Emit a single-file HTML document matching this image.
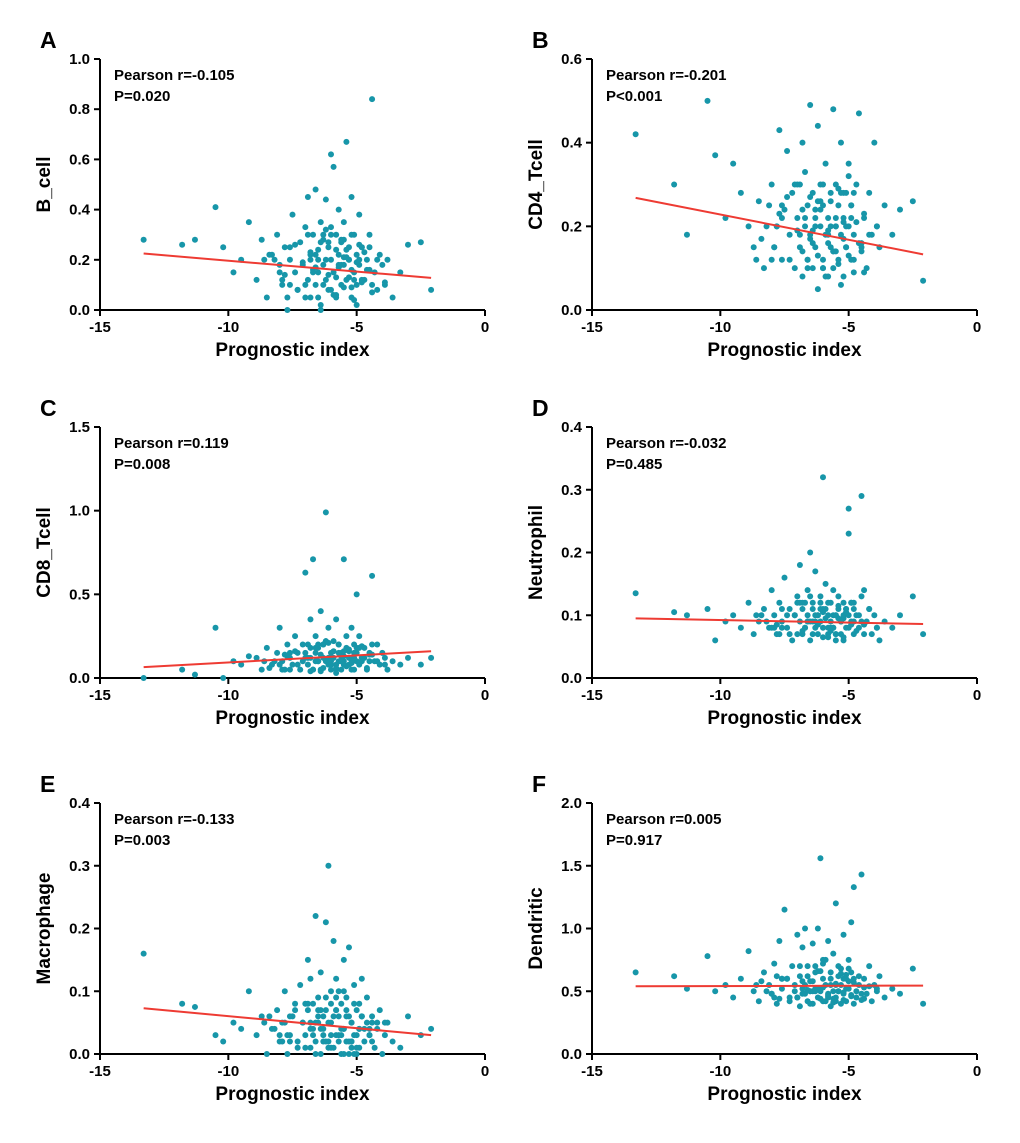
<!DOCTYPE html>
<html><head><meta charset="utf-8">
<style>
html,body{margin:0;padding:0;background:#fff;}
svg{display:block;font-family:"Liberation Sans",Arial,sans-serif;font-weight:bold;}
</style></head>
<body>
<svg id="fig" width="1020" height="1143" viewBox="0 0 1020 1143"></svg>
<script>
const xTicks=[-15,-10,-5,0];
const prognosticIndex=[-13.3,-11.8,-11.3,-10.5,-10.2,-9.8,-9.5,-9.2,-8.9,-8.7,
-8.5,-8.3,-8.1,-8.0,-7.9,-7.8,-7.7,-7.6,-7.5,-7.4,
-7.3,-7.2,-7.1,-7.0,-6.9,-6.9,-6.8,-6.8,-6.7,-6.7,
-6.6,-6.6,-6.5,-6.5,-6.4,-6.4,-6.3,-6.3,-6.2,-6.2,
-6.1,-6.1,-6.0,-6.0,-5.9,-5.9,-5.8,-5.8,-5.7,-5.7,
-5.6,-5.6,-5.5,-5.5,-5.4,-5.4,-5.3,-5.3,-5.2,-5.2,
-5.1,-5.1,-5.0,-5.0,-4.9,-4.9,-4.8,-4.7,-4.6,-4.5,
-4.4,-4.3,-4.2,-4.1,-4.0,-3.9,-3.8,-3.6,-3.3,-3.0,
-2.5,-2.1,-8.6,-7.6,-7.0,-6.5,-6.0,-5.5,-5.0,-4.5,
-7.8,-6.2,-5.8,-5.3,-4.8,-6.8,-6.4,-5.6,-5.2,-4.4,
-8.2,-7.9,-7.6,-7.3,-7.1,-6.9,-6.7,-6.6,-6.5,-6.4,-6.3,-6.2,-6.1,-6.0,-5.9,-5.8,-5.7,-5.6,-5.5,-5.4,
-5.3,-5.2,-5.1,-5.0,-4.9,-4.8,-4.7,-4.6,-4.4,-4.2,-8.0,-7.4,-7.0,-6.8,-6.3,-6.0,-5.7,-5.4,-5.1,-4.9,
-8.4,-7.7,-6.6,-6.1,-5.8,-5.5,-5.2,-4.8,-4.5,-3.9];
const bCell=[0.28,0.26,0.28,0.41,0.25,0.15,0.2,0.35,0.12,0.28,
0.05,0.22,0.3,0.18,0.1,0.25,0.0,0.2,0.38,0.15,
0.08,0.27,0.19,0.33,0.12,0.45,0.22,0.05,0.3,0.16,
0.48,0.1,0.24,0.2,0.02,0.35,0.18,0.28,0.44,0.12,
0.25,0.08,0.62,0.2,0.57,0.15,0.3,0.05,0.22,0.4,
0.18,0.1,0.28,0.35,0.67,0.12,0.2,0.25,0.45,0.05,
0.15,0.3,0.22,0.1,0.38,0.18,0.25,0.12,0.2,0.3,
0.84,0.15,0.08,0.22,0.18,0.1,0.2,0.05,0.15,0.26,
0.27,0.08,0.2,0.1,0.05,0.15,0.3,0.18,0.02,0.25,
0.14,0.32,0.06,0.2,0.12,0.23,0.0,0.27,0.16,0.1,
0.2,0.12,0.25,0.08,0.18,0.3,0.15,0.22,0.05,0.27,0.1,0.2,0.14,0.33,0.06,0.24,0.17,0.28,0.09,0.21,
0.13,0.3,0.04,0.19,0.26,0.11,0.23,0.16,0.07,0.2,0.15,0.26,0.1,0.2,0.3,0.08,0.18,0.24,0.12,0.2,
0.22,0.05,0.17,0.27,0.13,0.21,0.09,0.25,0.16,0.11];
const cd4=[0.42,0.3,0.18,0.5,0.37,0.22,0.35,0.28,0.2,0.15,
0.26,0.1,0.25,0.3,0.15,0.2,0.43,0.12,0.24,0.38,
0.18,0.28,0.1,0.22,0.3,0.15,0.4,0.08,0.2,0.33,
0.25,0.12,0.18,0.49,0.28,0.1,0.22,0.15,0.44,0.05,
0.2,0.3,0.12,0.25,0.18,0.35,0.08,0.22,0.28,0.15,
0.48,0.1,0.2,0.3,0.25,0.12,0.18,0.4,0.22,0.08,
0.28,0.15,0.35,0.2,0.12,0.25,0.18,0.3,0.47,0.15,
0.22,0.1,0.28,0.18,0.4,0.2,0.15,0.25,0.18,0.24,
0.26,0.07,0.12,0.22,0.3,0.17,0.1,0.2,0.32,0.14,
0.2,0.26,0.16,0.06,0.12,0.24,0.19,0.14,0.28,0.09,
0.2,0.15,0.25,0.12,0.3,0.18,0.22,0.1,0.27,0.16,0.2,0.13,0.24,0.3,0.08,0.19,0.26,0.14,0.22,0.11,
0.28,0.17,0.2,0.13,0.25,0.09,0.21,0.16,0.23,0.18,0.12,0.27,0.19,0.14,0.24,0.1,0.2,0.29,0.15,0.22,
0.17,0.23,0.12,0.26,0.18,0.14,0.21,0.28,0.16,0.2];
const cd8=[0.0,0.05,0.02,0.3,0.0,0.1,0.08,0.13,0.12,0.05,
0.18,0.08,0.15,0.3,0.1,0.05,0.2,0.12,0.08,0.25,
0.15,0.05,0.1,0.63,0.2,0.08,0.35,0.12,0.71,0.05,
0.15,0.25,0.1,0.18,0.4,0.05,0.12,0.2,0.99,0.1,
0.08,0.3,0.15,0.05,0.22,0.12,0.35,0.08,0.1,0.2,
0.05,0.15,0.71,0.1,0.18,0.25,0.08,0.12,0.3,0.05,
0.15,0.2,0.5,0.1,0.08,0.25,0.12,0.18,0.05,0.15,
0.61,0.1,0.2,0.08,0.15,0.12,0.05,0.1,0.08,0.12,
0.08,0.12,0.1,0.05,0.15,0.2,0.12,0.08,0.18,0.1,
0.14,0.22,0.06,0.16,0.1,0.18,0.04,0.13,0.09,0.2,
0.1,0.05,0.15,0.08,0.2,0.12,0.05,0.18,0.1,0.14,0.06,0.22,0.12,0.08,0.16,0.03,0.2,0.1,0.13,0.07,
0.17,0.11,0.05,0.15,0.09,0.19,0.12,0.06,0.14,0.1,0.08,0.16,0.12,0.04,0.2,0.1,0.15,0.07,0.12,0.18,
0.06,0.13,0.1,0.21,0.05,0.16,0.09,0.12,0.14,0.08];
const neutrophil=[0.135,0.105,0.1,0.11,0.06,0.09,0.1,0.08,0.12,0.07,
0.09,0.11,0.08,0.14,0.1,0.07,0.12,0.09,0.16,0.08,
0.11,0.06,0.1,0.13,0.09,0.18,0.07,0.11,0.12,0.08,
0.1,0.14,0.2,0.06,0.09,0.12,0.08,0.17,0.1,0.07,
0.13,0.09,0.32,0.08,0.11,0.15,0.07,0.1,0.12,0.09,
0.08,0.14,0.1,0.06,0.11,0.13,0.09,0.07,0.12,0.1,
0.08,0.11,0.27,0.23,0.09,0.12,0.07,0.1,0.08,0.29,
0.14,0.09,0.11,0.07,0.1,0.08,0.06,0.09,0.08,0.1,
0.13,0.07,0.1,0.08,0.12,0.09,0.11,0.07,0.1,0.13,
0.085,0.1,0.065,0.09,0.12,0.075,0.11,0.08,0.095,0.07,
0.09,0.08,0.11,0.07,0.1,0.12,0.08,0.09,0.13,0.07,0.1,0.085,0.11,0.065,0.095,0.12,0.08,0.1,0.07,0.115,
0.09,0.06,0.105,0.08,0.12,0.09,0.075,0.1,0.085,0.11,0.08,0.1,0.07,0.12,0.09,0.105,0.075,0.095,0.11,0.085,
0.1,0.07,0.09,0.12,0.08,0.1,0.065,0.11,0.09,0.08];
const macrophage=[0.16,0.08,0.075,0.03,0.02,0.05,0.04,0.1,0.03,0.06,
0.0,0.04,0.07,0.02,0.05,0.1,0.0,0.03,0.06,0.08,
0.02,0.11,0.05,0.03,0.15,0.07,0.01,0.12,0.04,0.08,
0.22,0.02,0.05,0.09,0.0,0.13,0.06,0.03,0.21,0.07,
0.3,0.02,0.1,0.05,0.18,0.01,0.07,0.12,0.03,0.06,
0.08,0.0,0.15,0.04,0.02,0.09,0.06,0.17,0.01,0.05,
0.11,0.03,0.07,0.0,0.04,0.08,0.12,0.02,0.05,0.03,
0.06,0.01,0.04,0.07,0.0,0.03,0.05,0.02,0.01,0.06,
0.03,0.04,0.05,0.02,0.08,0.06,0.03,0.1,0.01,0.04,
0.05,0.02,0.09,0.0,0.06,0.04,0.07,0.03,0.02,0.05,
0.04,0.02,0.06,0.01,0.05,0.08,0.03,0.0,0.07,0.04,0.02,0.09,0.05,0.01,0.06,0.03,0.1,0.04,0.0,0.07,
0.02,0.05,0.08,0.03,0.01,0.06,0.04,0.09,0.02,0.05,0.03,0.07,0.01,0.05,0.04,0.08,0.02,0.06,0.0,0.04,
0.06,0.03,0.05,0.01,0.07,0.04,0.02,0.06,0.03,0.05];
const dendritic=[0.65,0.62,0.52,0.78,0.5,0.55,0.45,0.6,0.82,0.5,
0.42,0.65,0.55,0.48,0.72,0.4,0.9,0.52,1.15,0.6,
0.45,0.7,0.5,0.95,0.38,0.62,0.85,0.48,0.55,1.0,
0.42,0.7,0.5,0.58,0.88,0.4,0.65,0.52,1.0,0.45,
1.56,0.5,0.6,0.75,0.42,0.55,0.9,0.48,0.65,0.38,
0.8,0.5,1.2,0.45,0.62,0.7,0.4,0.55,0.95,0.48,
0.6,0.42,0.75,0.52,0.65,1.05,1.33,0.45,0.55,1.43,
0.6,0.48,0.7,0.42,0.55,0.5,0.62,0.45,0.52,0.48,
0.68,0.4,0.55,0.6,0.45,0.5,0.72,0.42,0.58,0.48,
0.62,0.52,0.45,0.68,0.4,0.58,0.5,0.44,0.6,0.53,
0.5,0.45,0.6,0.42,0.55,0.7,0.48,0.62,0.4,0.58,0.5,0.66,0.44,0.53,0.75,0.47,0.6,0.41,0.56,0.5,
0.64,0.43,0.52,0.68,0.46,0.57,0.5,0.62,0.44,0.54,0.48,0.6,0.45,0.52,0.7,0.42,0.55,0.5,0.63,0.47,
0.58,0.44,0.51,0.66,0.46,0.55,0.49,0.6,0.43,0.52];
const fitX=[-13.3,-2.1];
const fitA=[0.225,0.128], fitB=[0.268,0.133], fitC=[0.065,0.16], fitD=[0.095,0.086], fitE=[0.073,0.03], fitF=[0.54,0.545];
const panelLetters=["A","B","C","D","E","F"];
const yTitles=["B_cell","CD4_Tcell","CD8_Tcell","Neutrophil","Macrophage","Dendritic"];
const yMaxes=[1.0,0.6,1.5,0.4,0.4,2.0];
const ySteps=[0.2,0.2,0.5,0.1,0.1,0.5];
const rStats=["Pearson r=-0.105","Pearson r=-0.201","Pearson r=0.119","Pearson r=-0.032","Pearson r=-0.133","Pearson r=0.005"];
const pStats=["P=0.020","P<0.001","P=0.008","P=0.485","P=0.003","P=0.917"];
const ySeries=[bCell,cd4,cd8,neutrophil,macrophage,dendritic];
const fits=[fitA,fitB,fitC,fitD,fitE,fitF];

const NS="http://www.w3.org/2000/svg";
const svg=document.getElementById('fig');
function mk(tag,attrs,parent,text){const e=document.createElementNS(NS,tag);for(const k in attrs)e.setAttribute(k,attrs[k]);if(text!==undefined)e.textContent=text;parent.appendChild(e);return e;}
const lefts=[100,592], tops=[59,427,803], W=385, H=251;
for(let p=0;p<6;p++){
  const L=lefts[p%2], T=tops[Math.floor(p/2)], B=T+H, R=L+W;
  const yMax=yMaxes[p];
  const sx=v=>L+(v+15)/15*W;
  const sy=v=>B-v/yMax*H;
  const g=mk('g',{},svg);
  
  
  const lt=mk('text',{x:L-60,y:T-11,'font-size':23,fill:'#000'},g,panelLetters[p]);
  
  
  const ya=mk('line',{x1:L,y1:T,x2:L,y2:B,stroke:'#000','stroke-width':2},g);
  
  
  const xa=mk('line',{x1:L,y1:B,x2:R,y2:B,stroke:'#000','stroke-width':2},g);
  
  
  const nT=Math.round(yMax/ySteps[p]);
  for(let i=0;i<=nT;i++){
    const v=i*ySteps[p], y=sy(v);
    mk('line',{x1:L-6,y1:y,x2:L,y2:y,stroke:'#000','stroke-width':2},g);
    const t=mk('text',{x:L-10,y:y+5,'font-size':15,'text-anchor':'end'},g,v.toFixed(1));
    
    
  }
  xTicks.forEach(v=>{
    const x=sx(v);
    mk('line',{x1:x,y1:B,x2:x,y2:B+6,stroke:'#000','stroke-width':2},g);
    const t=mk('text',{x:x,y:B+22,'font-size':15,'text-anchor':'middle'},g,String(v));
    
    
  });
  const xt=mk('text',{x:L+W/2,y:B+46,'font-size':19,'text-anchor':'middle'},g,'Prognostic index');
  
  
  const yt=mk('text',{x:0,y:0,'font-size':19,'text-anchor':'middle',transform:`translate(${L-50},${T+H/2}) rotate(-90)`},g,yTitles[p]);
  
  
  const ys=ySeries[p];
  prognosticIndex.forEach((xv,i)=>{
    const c=mk('circle',{cx:sx(xv),cy:sy(ys[i]),r:3,fill:'#1796a9'},g);
    
    
  });
  const f=fits[p];
  const fl=mk('line',{x1:sx(fitX[0]),y1:sy(f[0]),x2:sx(fitX[1]),y2:sy(f[1]),stroke:'#ee3b33','stroke-width':2},g);
  
  
  const r=mk('text',{x:L+14,y:T+21,'font-size':15},g,rStats[p]);
  
  
  const pv=mk('text',{x:L+14,y:T+42,'font-size':15},g,pStats[p]);
  
  
}
</script>
</body></html>
